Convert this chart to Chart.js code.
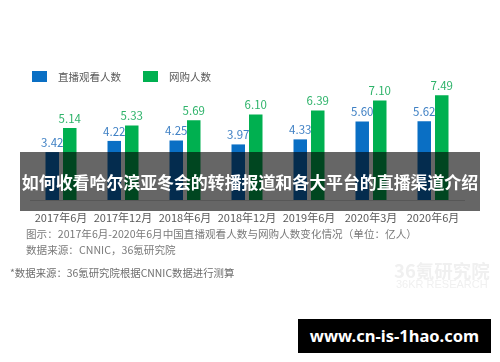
<!DOCTYPE html>
<html>
<head>
<meta charset="utf-8">
<script src="https://cdn.jsdelivr.net/npm/chart.js@4.4.1/dist/chart.umd.min.js"></script>
<style>
  html, body { margin: 0; padding: 0; background: #fff; }
  #wrap { position: relative; width: 500px; height: 362px; overflow: hidden; font-family: "Noto Sans CJK SC", "Noto Sans", sans-serif; }
  #c { position: absolute; left: 0; top: 0; }
  .abs { position: absolute; white-space: nowrap; }
  #band { left: 20px; top: 152px; width: 460px; height: 59px; background: rgba(0,0,0,0.6); }
  #title { left: 20px; top: 152px; width: 460px; height: 59px; line-height: 59px; text-align: center; color: #fff; font-weight: bold; font-size: 17px; letter-spacing: -0.1px; }
  #cap1 { left: 26px; top: 226px; font-size: 10.6px; color: #7a7a7a; line-height: 16px; }
  #cap2 { left: 26px; top: 242px; font-size: 10.6px; color: #7a7a7a; line-height: 16px; }
  #cap3 { left: 10px; top: 265px; font-size: 10.4px; color: #6e6e6e; line-height: 16px; }
  #wm1 { left: 394px; top: 258px; font-size: 18.5px; font-weight: bold; color: #f0f0f0; line-height: 24px; }
  #wm2 { left: 396px; top: 277px; font-family: "Liberation Sans", Arial, sans-serif; font-size: 11px; color: #f0f0f0; line-height: 14px; }
  #site { left: 298px; top: 319px; width: 193px; height: 34px; background: #000; color: #fff; font-family: "Noto Sans", "DejaVu Sans", sans-serif; font-weight: bold; font-size: 16.5px; line-height: 34px; text-align: center; }
</style>
</head>
<body>
<div id="wrap">
  <canvas id="c" width="500" height="362"></canvas>
  <div class="abs" id="band"></div>
  <div class="abs" id="title">如何收看哈尔滨亚冬会的转播报道和各大平台的直播渠道介绍</div>
  <div class="abs" id="cap1">图示：2017年6月-2020年6月中国直播观看人数与网购人数变化情况（单位：亿人）</div>
  <div class="abs" id="cap2">数据来源：CNNIC，36氪研究院</div>
  <div class="abs" id="cap3">*数据来源：36氪研究院根据CNNIC数据进行测算</div>
  <div class="abs" id="wm1">36氪研究院</div>
  <div class="abs" id="wm2">36KR RESEARCH</div>
  <div class="abs" id="site">www.cn-is-1hao.com</div>
</div>
<script>
const categories = ["2017年6月", "2017年12月", "2018年6月", "2018年12月", "2019年6月", "2020年3月", "2020年6月"];
const liveViewers = [3.42, 4.22, 4.25, 3.97, 4.33, 5.60, 5.62];
const onlineShoppers = [5.14, 5.33, 5.69, 6.10, 6.39, 7.10, 7.49];
const seriesNames = ["直播观看人数", "网购人数"];

const BLUE = "#0a6fc4";
const GREEN = "#00b050";
const LABEL_COLORS = ["#3f80c4", "#2eb36a"];
const FONT = '"Noto Sans CJK SC", "Noto Sans", sans-serif';

const valueLabels = {
  id: "valueLabels",
  afterDatasetsDraw(chart) {
    const ctx = chart.ctx;
    ctx.save();
    ctx.font = "11.5px " + FONT;
    ctx.textAlign = "center";
    ctx.textBaseline = "bottom";
    chart.data.datasets.forEach((ds, i) => {
      const meta = chart.getDatasetMeta(i);
      ctx.fillStyle = LABEL_COLORS[i];
      meta.data.forEach((el, j) => {
        ctx.fillText(ds.data[j].toFixed(2), el.x, el.y - 4);
      });
    });
    ctx.restore();
  }
};

const customLegend = {
  id: "customLegend",
  afterDraw(chart) {
    const ctx = chart.ctx;
    const items = [
      { box: 32, text: 58, color: BLUE },
      { box: 143, text: 169, color: GREEN }
    ];
    ctx.save();
    ctx.font = "10.5px " + FONT;
    ctx.textBaseline = "middle";
    ctx.textAlign = "left";
    items.forEach((it, i) => {
      ctx.fillStyle = it.color;
      ctx.fillRect(it.box, 71, 15, 11);
      ctx.fillStyle = "#595959";
      ctx.fillText(chart.data.datasets[i].label, it.text, 77);
    });
    ctx.restore();
  }
};

new Chart(document.getElementById("c"), {
  type: "bar",
  data: {
    labels: categories,
    datasets: [
      { label: seriesNames[0], data: liveViewers, backgroundColor: BLUE },
      { label: seriesNames[1], data: onlineShoppers, backgroundColor: GREEN }
    ]
  },
  options: {
    responsive: false,
    animation: false,
    devicePixelRatio: 1,
    layout: { padding: { left: 30, right: 36, top: 88, bottom: 0 } },
    datasets: { bar: { categoryPercentage: 0.565, barPercentage: 0.77 } },
    plugins: { legend: { display: false }, tooltip: { enabled: false } },
    scales: {
      x: {
        grid: { display: false },
        border: { display: true, color: "#d9d9d9", width: 1 },
        ticks: { color: "#595959", font: { family: FONT, size: 11 }, padding: 3, maxRotation: 0, autoSkip: false },
        afterFit(scale) { scale.height = 162; }
      },
      y: { display: false, min: 0, max: 8 }
    }
  },
  plugins: [valueLabels, customLegend]
});
</script>
</body>
</html>
